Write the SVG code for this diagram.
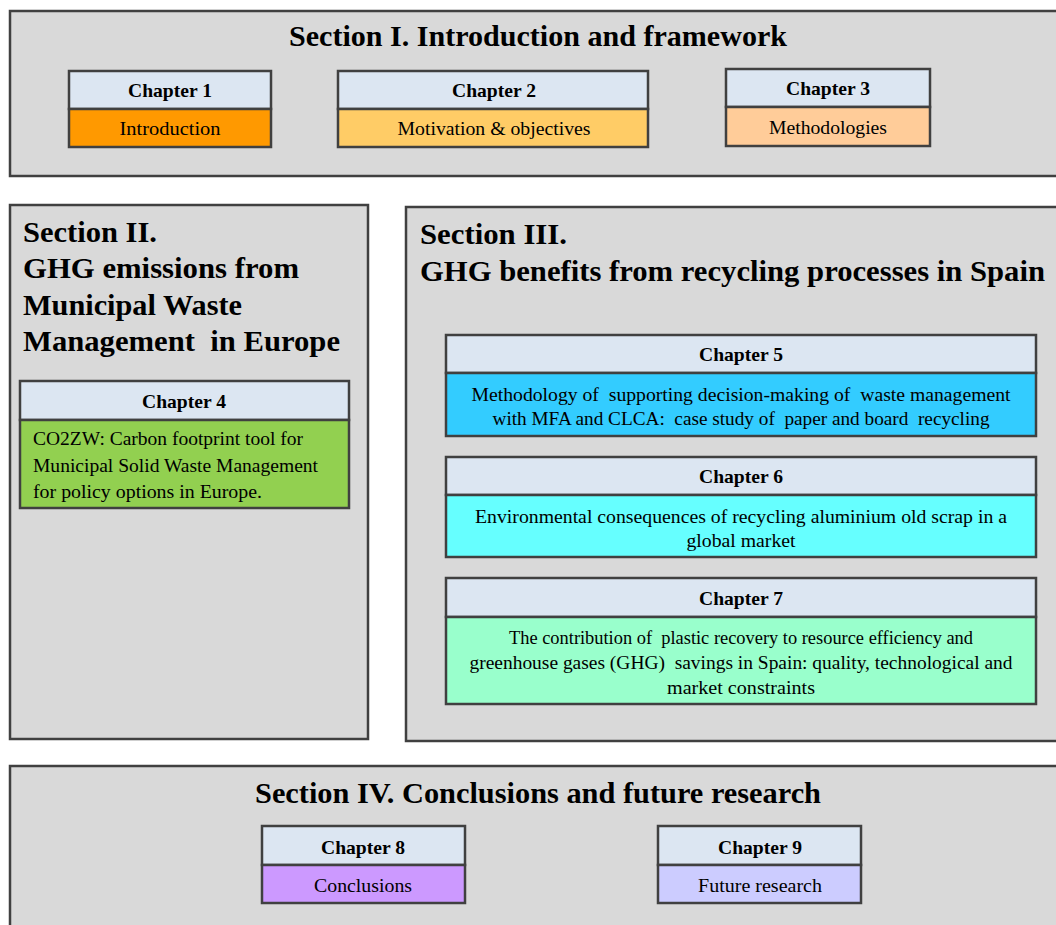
<svg xmlns="http://www.w3.org/2000/svg" width="1056" height="925" viewBox="0 0 1056 925">
  <style>
    .section { fill: #D9D9D9; stroke: #404040; stroke-width: 2.5; }
    .box { stroke: #404040; stroke-width: 2.5; }
    .head { fill: #DCE6F2; }
    .stitle { font-family: "Liberation Serif", serif; font-weight: bold; font-size: 30px; fill: #000; }
    .chap { font-family: "Liberation Serif", serif; font-weight: bold; font-size: 19px; fill: #000; text-anchor: middle; }
    .body { font-family: "Liberation Serif", serif; font-size: 19px; fill: #000; text-anchor: middle; }
    .left { text-anchor: start; }
  </style>

  <!-- Section frames -->
  <g id="section-1">
    <rect class="section" x="10" y="11" width="1060" height="165"/>
    <text class="stitle" x="538" y="46" text-anchor="middle" textLength="498" lengthAdjust="spacingAndGlyphs">Section I. Introduction and framework</text>
  </g>
  <g id="section-2">
    <rect class="section" x="10" y="205" width="358" height="534"/>
    <text class="stitle" x="23" y="242" textLength="134" lengthAdjust="spacingAndGlyphs">Section II.</text>
    <text class="stitle" x="23" y="278" textLength="276" lengthAdjust="spacingAndGlyphs">GHG emissions from</text>
    <text class="stitle" x="23" y="315" textLength="219" lengthAdjust="spacingAndGlyphs">Municipal Waste</text>
    <text class="stitle" x="23" y="351" xml:space="preserve" textLength="317" lengthAdjust="spacingAndGlyphs">Management  in Europe</text>
  </g>
  <g id="section-3">
    <rect class="section" x="406" y="207" width="660" height="534"/>
    <text class="stitle" x="420" y="244" textLength="147" lengthAdjust="spacingAndGlyphs">Section III.</text>
    <text class="stitle" x="420" y="281" textLength="625" lengthAdjust="spacingAndGlyphs">GHG benefits from recycling processes in Spain</text>
  </g>
  <g id="section-4">
    <rect class="section" x="10" y="766" width="1060" height="170"/>
    <text class="stitle" x="538" y="803" text-anchor="middle" textLength="566" lengthAdjust="spacingAndGlyphs">Section IV. Conclusions and future research</text>
  </g>

  <!-- Chapter boxes -->
  <g id="chapter-1">
    <rect class="box head" x="69" y="71" width="202" height="38"/>
    <rect class="box" fill="#FF9900" x="69" y="109" width="202" height="38"/>
    <text class="chap" x="170" y="97" textLength="84" lengthAdjust="spacingAndGlyphs">Chapter 1</text>
    <text class="body" x="170" y="135" textLength="101" lengthAdjust="spacingAndGlyphs">Introduction</text>
  </g>
  <g id="chapter-2">
    <rect class="box head" x="338" y="71" width="310" height="38"/>
    <rect class="box" fill="#FFCC66" x="338" y="109" width="310" height="38"/>
    <text class="chap" x="494" y="97" textLength="84" lengthAdjust="spacingAndGlyphs">Chapter 2</text>
    <text class="body" x="494" y="135" textLength="193" lengthAdjust="spacingAndGlyphs">Motivation &amp; objectives</text>
  </g>
  <g id="chapter-3">
    <rect class="box head" x="726" y="69" width="204" height="38"/>
    <rect class="box" fill="#FFCC99" x="726" y="107" width="204" height="39"/>
    <text class="chap" x="828" y="95" textLength="84" lengthAdjust="spacingAndGlyphs">Chapter 3</text>
    <text class="body" x="828" y="134" textLength="118" lengthAdjust="spacingAndGlyphs">Methodologies</text>
  </g>
  <g id="chapter-4">
    <rect class="box head" x="20" y="381" width="329" height="39"/>
    <rect class="box" fill="#92D050" x="20" y="420" width="329" height="88"/>
    <text class="chap" x="184" y="408" textLength="84" lengthAdjust="spacingAndGlyphs">Chapter 4</text>
    <text class="body left" x="33" y="445" textLength="270" lengthAdjust="spacingAndGlyphs">CO2ZW: Carbon footprint tool for</text>
    <text class="body left" x="33" y="472" textLength="285" lengthAdjust="spacingAndGlyphs">Municipal Solid Waste Management</text>
    <text class="body left" x="33" y="498" textLength="229" lengthAdjust="spacingAndGlyphs">for policy options in Europe.</text>
  </g>
  <g id="chapter-5">
    <rect class="box head" x="446" y="335" width="590" height="38"/>
    <rect class="box" fill="#33CCFF" x="446" y="373" width="590" height="63"/>
    <text class="chap" x="741" y="361" textLength="84" lengthAdjust="spacingAndGlyphs">Chapter 5</text>
    <text class="body" x="741" y="401" xml:space="preserve" textLength="539" lengthAdjust="spacingAndGlyphs">Methodology of  supporting decision-making of  waste management</text>
    <text class="body" x="741" y="425" xml:space="preserve" textLength="497" lengthAdjust="spacingAndGlyphs">with MFA and CLCA:  case study of  paper and board  recycling</text>
  </g>
  <g id="chapter-6">
    <rect class="box head" x="446" y="457" width="590" height="38"/>
    <rect class="box" fill="#66FFFF" x="446" y="495" width="590" height="62"/>
    <text class="chap" x="741" y="483" textLength="84" lengthAdjust="spacingAndGlyphs">Chapter 6</text>
    <text class="body" x="741" y="523" textLength="532" lengthAdjust="spacingAndGlyphs">Environmental consequences of recycling aluminium old scrap in a</text>
    <text class="body" x="741" y="547" textLength="109" lengthAdjust="spacingAndGlyphs">global market</text>
  </g>
  <g id="chapter-7">
    <rect class="box head" x="446" y="578" width="590" height="39"/>
    <rect class="box" fill="#99FFCC" x="446" y="617" width="590" height="87"/>
    <text class="chap" x="741" y="605" textLength="84" lengthAdjust="spacingAndGlyphs">Chapter 7</text>
    <text class="body" x="741" y="644" xml:space="preserve" textLength="464" lengthAdjust="spacingAndGlyphs">The contribution of  plastic recovery to resource efficiency and</text>
    <text class="body" x="741" y="669" xml:space="preserve" textLength="543" lengthAdjust="spacingAndGlyphs">greenhouse gases (GHG)  savings in Spain: quality, technological and</text>
    <text class="body" x="741" y="694" textLength="148" lengthAdjust="spacingAndGlyphs">market constraints</text>
  </g>
  <g id="chapter-8">
    <rect class="box head" x="262" y="826" width="203" height="39"/>
    <rect class="box" fill="#CC99FF" x="262" y="865" width="203" height="38"/>
    <text class="chap" x="363" y="854" textLength="84" lengthAdjust="spacingAndGlyphs">Chapter 8</text>
    <text class="body" x="363" y="892" textLength="98" lengthAdjust="spacingAndGlyphs">Conclusions</text>
  </g>
  <g id="chapter-9">
    <rect class="box head" x="658" y="826" width="203" height="39"/>
    <rect class="box" fill="#CCCCFF" x="658" y="865" width="203" height="38"/>
    <text class="chap" x="760" y="854" textLength="84" lengthAdjust="spacingAndGlyphs">Chapter 9</text>
    <text class="body" x="760" y="892" textLength="124" lengthAdjust="spacingAndGlyphs">Future research</text>
  </g>

  <!-- No connectors in this layout -->
  <g id="connectors"/>
</svg>
